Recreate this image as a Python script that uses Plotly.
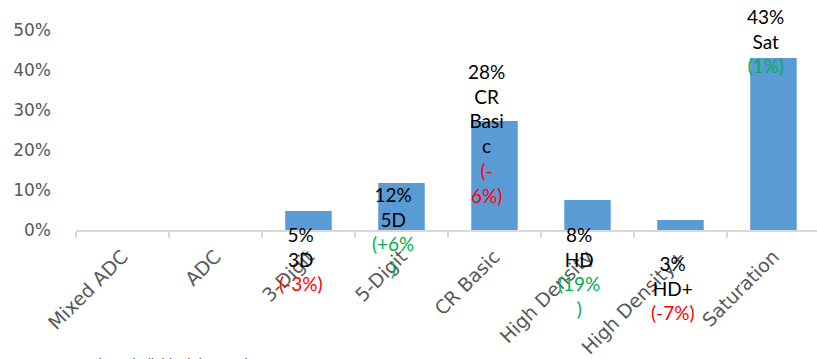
import plotly.graph_objects as go

categories = ["Mixed ADC", "ADC", "3-Digit", "5-Digit", "CR Basic", "High Density", "High Density+", "Saturation"]
values = [0.0, 0.0, 0.0475, 0.1175, 0.2725, 0.075, 0.025, 0.43]
pct_labels = ["", "", "5%", "12%", "28%", "8%", "3%", "43%"]
abbr_labels = ["", "", "3D", "5D", "CR<br>Basi<br>c", "HD", "HD+", "Sat"]
change_labels = ["", "", "(-3%)", "(+6%<br>)", "(-<br>6%)", "(19%<br>)", "(-7%)", "(1%)"]
change_sign = [0, 0, -1, 1, -1, 1, -1, 1]

# label placement offsets (px) relative to bar top, style only
label_yshift = [0, 0, -10, 2, 63, -21, -30, 55]
label_xshift = -8

RED = "#FF0000"
GREEN = "#00B050"
BAR = "#5B9BD5"
LABEL_FONT = "Lato, 'DejaVu Sans', sans-serif"
AXIS_FONT = "'DejaVu Sans', sans-serif"

fig = go.Figure()
fig.add_trace(go.Bar(
    x=categories, y=values, marker=dict(color=BAR, line=dict(width=0)),
    width=0.5, hoverinfo="skip",
))

for i, cat in enumerate(categories):
    if not pct_labels[i]:
        continue
    col = GREEN if change_sign[i] > 0 else RED
    txt = f"{pct_labels[i]}<br>{abbr_labels[i]}<br><span style='color:{col}'>{change_labels[i]}</span>"
    fig.add_annotation(
        x=cat, y=values[i], xref="x", yref="y", text=txt, showarrow=False,
        yanchor="top", xanchor="center",
        yshift=label_yshift[i], xshift=label_xshift,
        font=dict(family=LABEL_FONT, size=19, color="#000000"), align="center",
    )

fig.add_annotation(
    x=-0.09, y=-0.625, xref="paper", yref="paper", xanchor="left", yanchor="top",
    text="Source: PRW Shape individual data and LTF", showarrow=False,
    font=dict(family=AXIS_FONT, size=12, color="#404040"),
)

fig.update_layout(
    width=817, height=359,
    margin=dict(l=76, r=0, t=30, b=129),
    paper_bgcolor="white", plot_bgcolor="white",
    showlegend=False,
    font=dict(family=AXIS_FONT, color="#595959"),
    xaxis=dict(
        type="category", range=[-0.5, 7.468], tickangle=-45,
        showline=True, linecolor="#D9D9D9", linewidth=2,
        ticks="outside", ticklen=6, tickcolor="#D9D9D9", tickwidth=2,
        tickson="boundaries", showgrid=False, ticklabelstandoff=6,
        tickfont=dict(family=AXIS_FONT, size=19, color="#595959"),
    ),
    yaxis=dict(
        range=[0, 0.5], tickvals=[0, 0.1, 0.2, 0.3, 0.4, 0.5], tickformat=".0%",
        showgrid=False, zeroline=False, showline=False,
        ticklabelstandoff=24,
        tickfont=dict(family=AXIS_FONT, size=17, color="#595959"),
    ),
)

fig.write_html("out.html")
